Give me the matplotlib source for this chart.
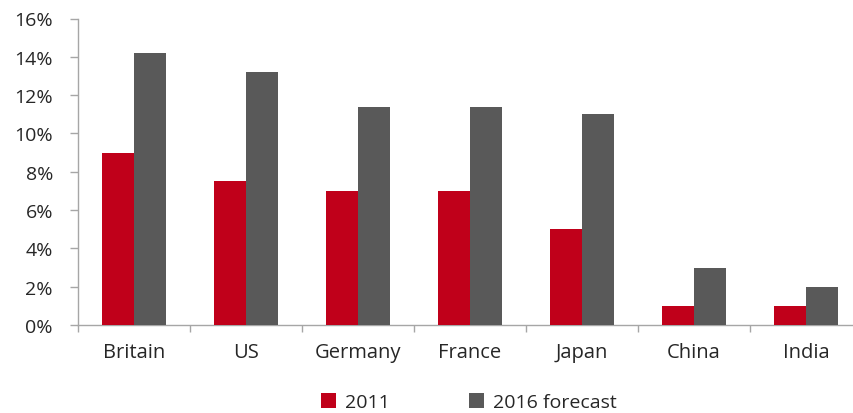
import numpy as np
import matplotlib.pyplot as plt
from matplotlib.ticker import FuncFormatter

plt.rcParams['font.family'] = ['Open Sans', 'DejaVu Sans']

countries = ['Britain', 'US', 'Germany', 'France', 'Japan', 'China', 'India']
share_2011 = [9.0, 7.5, 7.0, 7.0, 5.0, 1.0, 1.0]
share_2016 = [14.2, 13.2, 11.4, 11.4, 11.0, 3.0, 2.0]
series_names = ['2011', '2016 forecast']

red = '#C0001A'
grey = '#595959'
axis_grey = '#A6A6A6'

fig = plt.figure(figsize=(8.54, 4.14), dpi=100)
ax = fig.add_axes([78/854, 88/414, 784/854, 306.5/414])

x = np.arange(len(countries))
w = 0.29
ax.bar(x - w/2, share_2011, w, color=red, label=series_names[0], zorder=3)
ax.bar(x + w/2, share_2016, w, color=grey, label=series_names[1], zorder=3)

ax.set_xlim(-0.5, len(countries) - 0.5)
ax.set_ylim(0, 16)
ax.set_yticks(np.arange(0, 17, 2))
ax.yaxis.set_major_formatter(FuncFormatter(lambda v, p: f'{v:.0f}%'))

# category boundary ticks, labels in between
ax.set_xticks(np.arange(len(countries) + 1) - 0.5)
ax.set_xticklabels([])
ax.set_xticks(x, minor=True)
ax.set_xticklabels(countries, minor=True)
ax.tick_params(axis='x', which='major', length=5, color=axis_grey, width=1)
ax.tick_params(axis='x', which='minor', length=0, pad=12, labelsize=14.5, labelcolor='#262626')
ax.tick_params(axis='y', length=6, color=axis_grey, width=1, pad=12, labelsize=14, labelcolor='#262626')

for s in ['top', 'right']:
    ax.spines[s].set_visible(False)
for s in ['left', 'bottom']:
    ax.spines[s].set_color(axis_grey)
    ax.spines[s].set_linewidth(1)

fig.legend(loc='center', bbox_to_anchor=(0.549, 0.026), ncol=2, frameon=False,
           fontsize=14, handlelength=0.75, handleheight=0.75, handletextpad=0.45,
           columnspacing=4.1, labelcolor='#262626')

plt.savefig('out.png', dpi=100)
